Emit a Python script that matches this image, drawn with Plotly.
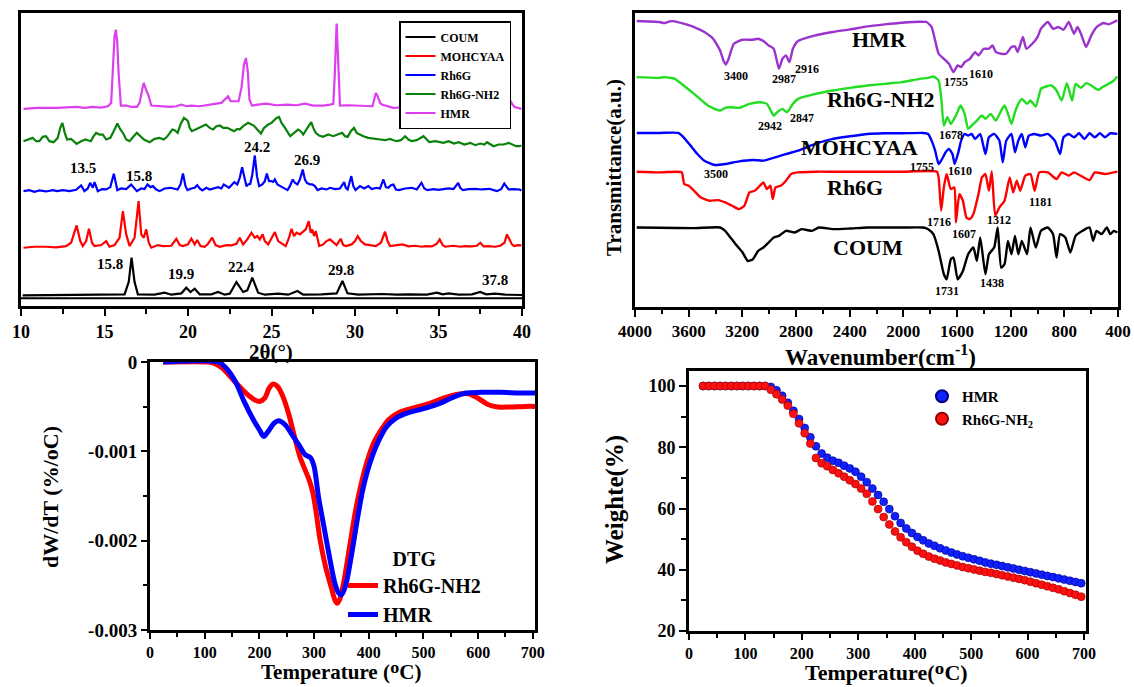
import plotly.graph_objects as go

W, H = 1134, 687
FONT = "Liberation Serif"

# ---------------- XRD (2theta, intensity a.u. above own baseline) ----------------
xrd_coum = [(10.1,0),(12.0,1),(14.0,1),(15.5,1),(16.2,3),(16.45,40),(16.62,113),(16.8,40),(17.0,3),(18.0,2),(18.6,8),(19.0,2),
            (19.6,6),(19.9,23),(20.15,10),(20.4,20),(20.7,3),(21.4,3),(21.8,10),(22.2,2),(22.5,5),(22.9,40),(23.3,10),(23.55,15),
            (23.85,53),(24.2,8),(24.6,2),(25.4,5),(26.0,2),(26.55,13),(26.9,2),(28.0,3),(28.9,6),(29.25,43),(29.55,6),(30.2,2),
            (31.6,4),(32.5,2),(33.2,3),(34.3,2),(34.9,8),(35.25,3),(35.6,6),(36.2,2),(37.0,3),(37.5,10),(37.85,3),(38.4,5),(39.0,2),(40.0,1)]
xrd_mohcyaa = [(10.15,0),(10.8,3),(11.5,3),(12.1,1),(12.7,5),(13.0,15),(13.33,67),(13.55,20),(13.7,5),(13.9,20),(14.07,57),(14.25,15),
               (14.4,5),(14.8,8),(15.1,20),(15.3,3),(15.6,8),(15.9,30),(16.1,110),(16.3,40),(16.5,5),(16.8,30),(17.04,140),(17.2,40),
               (17.35,30),(17.5,55),(17.65,15),(17.8,0),(18.2,8),(18.5,5),(19.0,6),(19.3,27),(19.5,8),(19.7,5),(20.0,10),(20.2,27),
               (20.4,10),(20.55,23),(20.75,5),(21.0,3),(21.2,12),(21.45,30),(21.65,8),(21.9,3),(22.3,8),(22.6,7),(22.9,12),(23.1,30),
               (23.3,10),(23.55,25),(23.8,45),(24.0,30),(24.15,35),(24.3,25),(24.47,40),(24.6,20),(24.8,10),(25.0,28),(25.2,47),
               (25.4,20),(25.53,15),(25.7,10),(25.85,5),(26.05,30),(26.2,57),(26.35,35),(26.5,45),(26.7,40),(26.9,50),(27.05,55),
               (27.23,80),(27.35,45),(27.44,55),(27.55,35),(27.65,50),(27.86,5),(28.1,10),(28.3,20),(28.5,25),(28.7,15),(28.9,8),
               (29.14,27),(29.3,8),(29.46,5),(29.8,10),(30.0,20),(30.16,35),(30.35,20),(30.6,10),(30.9,8),(31.25,5),(31.55,15),
               (31.8,48),(31.95,20),(32.1,5),(32.5,8),(32.85,10),(33.2,4),(33.6,6),(34.0,3),(34.23,5),(34.6,4),(34.9,12),(35.07,25),
               (35.25,8),(35.4,3),(35.9,6),(36.3,3),(36.56,5),(37.0,4),(37.3,6),(37.5,15),(37.7,4),(38.0,5),(38.37,3),(38.7,6),
               (38.95,15),(39.1,40),(39.25,25),(39.4,10),(39.53,5),(39.75,8),(39.96,7)]
xrd_rh6g = [(10.15,0),(10.5,3),(10.8,-2),(11.1,2),(11.5,-1),(11.9,3),(12.16,0),(12.5,3),(12.9,0),(13.3,4),(13.6,17),(13.8,0),(14.0,8),
            (14.14,25),(14.3,10),(14.4,27),(14.6,0),(14.85,6),(15.1,5),(15.35,12),(15.56,52),(15.77,3),(16.0,8),(16.3,6),(16.6,20),
            (16.94,0),(17.2,8),(17.4,6),(17.57,20),(17.75,12),(17.9,15),(18.1,5),(18.3,0),(18.6,8),(18.95,10),(19.2,6),(19.38,5),
            (19.55,20),(19.7,53),(19.85,15),(19.97,3),(20.2,8),(20.4,10),(20.55,18),(20.7,8),(20.86,2),(21.1,10),(21.3,5),(21.5,7),
            (21.8,12),(22.0,8),(22.14,20),(22.3,15),(22.45,10),(22.6,18),(22.77,27),(22.95,20),(23.1,40),(23.24,72),(23.4,30),
            (23.5,15),(23.6,20),(23.73,22),(23.85,50),(24.0,107),(24.13,45),(24.26,15),(24.45,20),(24.6,30),(24.72,53),(24.85,30),
            (25.0,30),(25.1,28),(25.2,35),(25.35,20),(25.53,15),(25.75,8),(25.96,3),(26.1,15),(26.27,35),(26.4,25),(26.55,20),
            (26.7,35),(26.87,65),(27.0,35),(27.12,25),(27.3,20),(27.44,20),(27.6,15),(27.76,3),(28.0,8),(28.3,5),(28.5,10),(28.8,6),
            (29.1,8),(29.35,27),(29.45,10),(29.56,5),(29.67,25),(29.78,45),(29.9,15),(30.03,3),(30.3,15),(30.55,8),(30.8,15),(31.0,6),
            (31.3,10),(31.5,8),(31.7,35),(31.85,12),(32.0,10),(32.15,18),(32.3,20),(32.45,5),(32.64,3),(33.0,8),(33.4,10),(33.7,5),
            (33.98,25),(34.15,8),(34.34,3),(34.7,6),(35.0,4),(35.3,5),(35.6,8),(35.9,6),(36.18,25),(36.3,10),(36.46,3),(36.8,6),
            (37.2,7),(37.6,5),(38.05,7),(38.3,3),(38.5,0),(38.75,6),(38.94,23),(39.05,15),(39.2,5),(39.5,6),(39.85,5),(39.96,2)]
xrd_rh6g_nh2 = [(10.15,5),(10.4,10),(10.7,15),(10.9,5),(11.1,5),(11.3,18),(11.5,20),(11.7,5),(11.95,2),(12.2,15),(12.35,45),(12.48,60),
                (12.62,30),(12.76,10),(13.0,12),(13.15,5),(13.33,-3),(13.6,5),(13.86,10),(14.0,8),(14.18,5),(14.35,20),(14.5,30),
                (14.7,25),(14.9,25),(15.1,10),(15.35,15),(15.55,35),(15.77,58),(15.95,40),(16.1,30),(16.3,10),(16.5,5),(16.75,20),
                (16.94,30),(17.15,20),(17.36,10),(17.7,2),(18.0,12),(18.3,15),(18.55,10),(18.74,18),(18.9,30),(19.06,40),(19.2,38),
                (19.38,30),(19.55,55),(19.76,75),(19.9,70),(20.0,65),(20.1,45),(20.23,35),(20.45,40),(20.65,45),(20.85,50),(21.07,55),
                (21.3,45),(21.5,40),(21.7,50),(21.92,52),(22.1,45),(22.35,45),(22.55,40),(22.77,35),(22.95,42),(23.1,40),(23.3,50),
                (23.6,60),(23.8,55),(23.94,52),(24.15,40),(24.37,28),(24.55,45),(24.8,55),(25.0,60),(25.1,65),(25.3,75),(25.45,78),
                (25.6,60),(25.74,50),(25.95,35),(26.12,20),(26.35,30),(26.6,40),(26.75,35),(26.9,25),(27.15,45),(27.38,62),(27.5,45),
                (27.65,30),(27.85,22),(28.08,18),(28.4,25),(28.7,20),(28.95,25),(29.23,30),(29.4,20),(29.56,18),(29.75,35),(29.94,45),
                (30.1,30),(30.3,25),(30.5,20),(30.8,15),(31.1,12),(31.5,10),(31.8,8),(32.1,12),(32.3,8),(32.5,5),(32.75,8),(33.0,20),
                (33.2,10),(33.4,5),(33.7,8),(33.95,15),(34.1,20),(34.3,10),(34.45,2),(34.8,5),(35.1,3),(35.3,0),(35.6,5),(35.93,-2),
                (36.2,2),(36.56,-5),(36.9,0),(37.2,-7),(37.5,-2),(37.75,-5),(37.9,2),(38.1,-5),(38.3,-10),(38.6,-5),(38.9,-5),(39.2,0),
                (39.4,-5),(39.65,-10),(39.85,-10),(39.96,-8)]
xrd_hmr = [(10.15,-3),(11.0,0),(12.16,0),(13.0,2),(13.33,3),(13.8,0),(14.3,3),(14.8,1),(15.2,5),(15.4,15),(15.5,125),(15.6,215),
           (15.68,235),(15.76,200),(15.85,100),(15.98,7),(16.3,7),(16.6,3),(16.94,3),(17.1,15),(17.26,55),(17.35,75),(17.45,60),
           (17.55,50),(17.65,35),(17.8,7),(18.2,5),(18.95,3),(19.3,5),(19.6,10),(19.9,5),(20.2,7),(20.7,5),(21.2,10),(21.7,13),
           (22.0,15),(22.2,25),(22.4,35),(22.56,20),(22.8,20),(23.03,20),(23.2,60),(23.35,130),(23.47,150),(23.58,110),(23.68,25),
           (23.83,7),(24.2,10),(24.67,13),(25.3,8),(25.96,10),(26.5,8),(27.0,13),(27.5,7),(28.08,7),(28.5,10),(28.7,12),(28.78,90),
           (28.85,240),(28.9,253),(28.97,170),(29.05,40),(29.1,7),(29.6,8),(30.2,7),(30.6,6),(31.05,5),(31.15,25),(31.25,45),
           (31.36,35),(31.5,15),(31.6,10),(32.0,5),(32.3,0),(33.0,2),(33.5,4),(34.45,0),(35.5,2),(36.56,0),(37.5,2),(38.7,0),
           (39.2,3),(39.35,17),(39.45,10),(39.53,3),(39.96,-3)]
xrd_names = ["COUM", "MOHCYAA", "Rh6G", "Rh6G-NH2", "HMR"]
xrd_series = [xrd_coum, xrd_mohcyaa, xrd_rh6g, xrd_rh6g_nh2, xrd_hmr]
xrd_offsets = [52, 195, 365, 510, 615]
xrd_colors = ["#000000", "#ff0000", "#0000ff", "#0a820a", "#dd3ef0"]
xrd_ticks = [10, 15, 20, 25, 30, 35, 40]
xrd_labels = [(15.35,147,"15.8"),(19.59,115,"19.9"),(23.2,137,"22.4"),(29.14,127,"29.8"),(38.37,97,"37.8"),
              (13.69,433,"13.5"),(17.04,410,"15.8"),(24.11,498,"24.2"),(27.12,458,"26.9")]

# ---------------- FTIR (wavenumber, dip depth below own plateau) ----------------
ftir_hmr = [(3987,0),(3819,3),(3780,6),(3741,1),(3703,1),(3638,8),(3560,18),(3483,33),(3418,53),(3366,88),(3341,118),(3322,130),
            (3302,113),(3263,68),(3198,56),(3121,56),(3082,53),(3043,60),(3004,73),(2966,83),(2927,143),(2901,113),(2875,103),
            (2849,123),(2823,83),(2785,60),(2655,43),(2526,33),(2397,25),(2267,16),(2138,10),(2009,5),(1879,2),(1828,3),(1789,18),
            (1763,58),(1737,98),(1698,113),(1660,128),(1626,153),(1595,133),(1569,138),(1543,123),(1504,113),(1465,93),(1440,103),
            (1401,83),(1362,83),(1336,73),(1310,93),(1271,98),(1233,98),(1194,78),(1168,76),(1148,93),(1109,48),(1083,83),(1039,68),
            (1000,48),(974,23),(923,3),(884,23),(845,18),(806,26),(767,3),(728,38),(702,18),(676,38),(638,78),(599,43),(560,18),
            (509,6),(470,10),(431,3),(405,-2)]
ftir_rh6g_nh2 = [(3987,0),(3819,2),(3780,0),(3703,5),(3638,25),(3560,50),(3457,85),(3366,100),(3328,92),(3289,90),(3224,92),(3147,80),
                 (3069,75),(3017,80),(2966,115),(2940,105),(2901,95),(2867,105),(2823,80),(2785,65),(2655,50),(2526,40),(2397,32),
                 (2267,25),(2138,20),(2009,15),(1879,5),(1815,2),(1776,-2),(1737,10),(1718,60),(1698,145),(1672,120),(1646,140),
                 (1608,115),(1574,85),(1543,110),(1517,155),(1491,145),(1452,130),(1414,115),(1388,125),(1349,110),(1310,130),
                 (1271,100),(1246,85),(1220,110),(1194,140),(1168,105),(1143,80),(1117,65),(1078,80),(1052,70),(1013,88),(974,35),
                 (935,28),(897,25),(858,40),(820,70),(781,18),(742,70),(716,20),(676,32),(638,18),(599,25),(547,38),(509,28),(470,20),
                 (431,10),(405,-2)]
ftir_mohcyaa = [(3987,0),(3819,0),(3677,0),(3638,13),(3586,38),(3535,63),(3483,83),(3405,96),(3328,93),(3224,85),(3121,81),(3043,83),
                (2914,68),(2785,53),(2655,33),(2526,18),(2397,10),(2267,3),(2138,1),(2009,1),(1853,0),(1815,3),(1789,23),(1763,53),
                (1737,93),(1711,78),(1685,58),(1660,48),(1634,63),(1617,93),(1590,58),(1569,23),(1543,3),(1517,8),(1491,3),(1465,18),
                (1427,3),(1388,63),(1362,13),(1323,3),(1284,23),(1259,88),(1233,23),(1194,3),(1168,58),(1143,23),(1117,3),(1091,43),
                (1065,8),(1026,3),(974,8),(923,3),(871,23),(832,63),(806,13),(767,3),(728,13),(690,1),(651,18),(612,1),(573,13),
                (535,1),(496,13),(457,1),(405,3)]
ftir_rh6g = [(3987,0),(3819,2),(3690,0),(3651,2),(3633,37),(3599,42),(3560,57),(3509,77),(3444,87),(3379,85),(3328,92),(3276,102),
             (3224,112),(3185,102),(3147,62),(3108,57),(3069,42),(3043,32),(3017,52),(2991,42),(2973,82),(2953,47),(2914,42),
             (2875,27),(2836,7),(2785,2),(2655,0),(2526,0),(2267,0),(2009,0),(1750,0),(1737,17),(1718,117),(1698,47),(1677,7),
             (1646,52),(1620,47),(1608,152),(1582,67),(1556,87),(1530,137),(1504,142),(1478,127),(1440,67),(1414,17),(1388,7),
             (1362,57),(1341,-1),(1315,132),(1284,107),(1246,87),(1207,17),(1181,62),(1155,27),(1129,57),(1091,12),(1052,7),
             (1021,57),(987,2),(923,2),(858,22),(820,2),(767,12),(728,2),(612,25),(573,2),(496,7),(405,0)]
ftir_coum = [(3987,0),(3819,1),(3560,2),(3366,0),(3328,10),(3289,30),(3250,50),(3198,75),(3160,100),(3121,95),(3082,70),(3043,60),
             (3004,45),(2966,30),(2927,25),(2875,10),(2810,15),(2759,5),(2681,10),(2630,0),(2526,5),(2397,3),(2267,0),(2009,0),
             (1853,0),(1815,5),(1776,20),(1737,70),(1698,140),(1677,155),(1646,95),(1626,90),(1595,155),(1556,130),(1517,80),
             (1478,60),(1452,100),(1427,30),(1388,140),(1362,80),(1323,60),(1297,0),(1271,120),(1246,110),(1220,40),(1194,80),
             (1168,25),(1143,80),(1117,40),(1078,80),(1052,0),(1013,60),(974,10),(923,0),(884,20),(858,90),(832,20),(793,30),
             (755,75),(716,25),(664,10),(612,0),(586,40),(560,10),(522,20),(483,0),(457,20),(431,10),(405,15)]
ftir_names = ["HMR", "Rh6G-NH2", "MOHCYAA", "Rh6G", "COUM"]
ftir_series = [ftir_hmr, ftir_rh6g_nh2, ftir_mohcyaa, ftir_rh6g, ftir_coum]
ftir_offsets = [856, 688, 521, 405, 238]
ftir_colors = ["#9a32cd", "#22dd22", "#0000ff", "#ff0000", "#000000"]
ftir_ticks = [4000, 3600, 3200, 2800, 2400, 2000, 1600, 1200, 800, 400]
ftir_peak_labels = [(3250,690,"3400"),(2888,683,"2987"),(2720,713,"2916"),(1608,673,"1755"),(1419,696,"1610"),
                    (2992,543,"2942"),(2754,565,"2847"),(1647,516,"1678"),(3400,398,"3500"),(1860,420,"1755"),(1574,408,"1610"),
                    (1737,253,"1716"),(1549,218,"1607"),(1285,260,"1312"),(974,313,"1181"),(1673,48,"1731"),(1342,73,"1438")]
ftir_name_labels = [(2177,800,"HMR"),(2169,620,"Rh6G-NH2"),(2330,478,"MOHCYAA"),(2358,358,"Rh6G"),(2262,178,"COUM")]

# ---------------- DTG ----------------
dtg_T_nh2 = [24,105,115,132,152,172,189,200,210,218,225,233,243,254,264,274,281,291,298,304,311,321,331,338,342,347,355,365,375,
             385,396,409,423,436,453,470,504,538,565,582,599,619,636,659,687,705]
dtg_nh2 = [0,0,-0.000011,-0.000067,-0.000198,-0.000329,-0.000415,-0.000441,-0.000403,-0.000291,-0.000247,-0.000273,-0.000385,
           -0.000590,-0.000833,-0.001057,-0.001169,-0.001319,-0.001468,-0.001692,-0.001991,-0.002290,-0.002514,-0.002664,-0.002701,
           -0.002656,-0.002440,-0.002066,-0.001692,-0.001394,-0.001132,-0.000908,-0.000758,-0.000646,-0.000572,-0.000534,-0.000478,
           -0.000403,-0.000359,-0.000355,-0.000403,-0.000478,-0.000504,-0.000504,-0.000497,-0.000497]
dtg_T_hmr = [24,125,139,156,172,189,200,208,216,227,235,247,260,274,284,293,300,308,318,328,338,345,350,358,369,379,389,402,416,
             433,450,470,504,531,558,578,605,642,676,705]
dtg_hmr = [0,0,-0.000067,-0.000217,-0.000441,-0.000646,-0.000758,-0.000833,-0.000777,-0.000684,-0.000658,-0.000702,-0.000815,
           -0.000945,-0.001039,-0.001068,-0.001169,-0.001506,-0.001842,-0.002178,-0.002477,-0.002589,-0.002608,-0.002496,-0.002141,
           -0.001767,-0.001431,-0.001132,-0.000908,-0.000721,-0.000628,-0.000572,-0.000516,-0.000460,-0.000385,-0.000347,-0.000340,
           -0.000340,-0.000347,-0.000347]
dtg_ticks = [0, -0.001, -0.002, -0.003]
dtg_ticktext = ["0", "-0.001", "-0.002", "-0.003"]
temp_ticks = [0, 100, 200, 300, 400, 500, 600, 700]

# ---------------- TGA ----------------
tga_T = [25,35,45,55,65,75,85,95,105,115,125,135,145,155,165,175,185,195,205,215,225,235,245,255,265,275,285,295,305,315,325,335,
         345,355,365,375,385,395,405,415,425,435,445,455,465,475,485,495,505,515,525,535,545,555,565,575,585,595,605,615,625,635,
         645,655,665,675,685,695]
tga_hmr = [100,100,100,100,100,100,100,100,100,100,100,100,99.7,98.6,96.8,94.5,91.9,89.2,86.3,83.3,80.3,78.0,76.6,75.6,74.9,74.0,
           73.1,72.0,70.4,68.6,66.5,64.4,62.2,59.8,57.5,55.3,53.5,52.0,50.7,49.6,48.6,47.8,47.0,46.3,45.6,45.0,44.4,43.9,43.4,
           42.9,42.4,42.0,41.6,41.2,40.8,40.4,40.0,39.6,39.2,38.8,38.4,38.0,37.6,37.2,36.8,36.4,36.0,35.6]
tga_nh2 = [100,100,100,100,100,100,100,100,100,100,100,100,98.8,97.3,95.6,93.6,90.9,87.8,84.6,81.2,76.5,74.8,73.8,72.6,71.5,70.4,
           69.2,68.0,66.5,64.8,62.3,59.8,57.2,54.8,52.5,50.6,49.0,47.5,46.2,45.2,44.3,43.6,43.0,42.4,41.9,41.4,40.9,40.5,40.1,
           39.7,39.3,39.0,38.6,38.2,37.8,37.4,37.0,36.6,36.1,35.6,35.1,34.6,34.1,33.6,33.0,32.4,31.8,31.2]
tga_yticks = [20, 40, 60, 80, 100]

# axis titles: (text, centre x px, centre y px, size, angle)
axis_titles = [("2θ(°)", 271, 352, 21, 0),
               ("Wavenumber(cm<sup>-1</sup>)", 880, 355, 23, 0),
               ("Transmittance(a.u.)", 614, 168, 21, -90),
               ("Temperature (ᴼC)", 341, 672, 21, 0),
               ("dW/dT (%/oC)", 50, 497, 22, -90),
               ("Temperature(ᴼC)", 886, 672, 22, 0),
               ("Weighte(%)", 615, 500, 25, -90)]

# ================= figure =================
def b(v):
    return "<b>%s</b>" % v

fig = go.Figure()

for name, pts, off, col in zip(xrd_names, xrd_series, xrd_offsets, xrd_colors):
    fig.add_trace(go.Scatter(x=[p[0] for p in pts], y=[off + p[1] for p in pts], mode="lines", name=b(name),
                             line=dict(color=col, width=2.2), xaxis="x", yaxis="y", legend="legend"))

for name, pts, off, col in zip(ftir_names, ftir_series, ftir_offsets, ftir_colors):
    fig.add_trace(go.Scatter(x=[p[0] for p in pts], y=[off - p[1] for p in pts], mode="lines", name=name,
                             line=dict(color=col, width=2.4, shape="spline", smoothing=0.5),
                             xaxis="x2", yaxis="y2", showlegend=False))

fig.add_trace(go.Scatter(x=dtg_T_nh2, y=dtg_nh2, mode="lines", name=b("Rh6G-NH2"),
                         line=dict(color="#ff0000", width=5, shape="spline", smoothing=0.8),
                         xaxis="x3", yaxis="y3", legend="legend2"))
fig.add_trace(go.Scatter(x=dtg_T_hmr, y=dtg_hmr, mode="lines", name=b("HMR"),
                         line=dict(color="#0000ff", width=5, shape="spline", smoothing=0.8),
                         xaxis="x3", yaxis="y3", legend="legend2"))

fig.add_trace(go.Scatter(x=tga_T, y=tga_hmr, mode="markers", name=b("HMR"),
                         marker=dict(color="#1020ff", size=8, line=dict(color="#000080", width=0.6)),
                         xaxis="x4", yaxis="y4", legend="legend3"))
fig.add_trace(go.Scatter(x=tga_T, y=tga_nh2, mode="markers", name=b("Rh6G-NH<sub>2</sub>"),
                         marker=dict(color="#ff1010", size=8, line=dict(color="#900000", width=0.6)),
                         xaxis="x4", yaxis="y4", legend="legend3"))

def px_x(a, c):
    return [a / W, c / W]

def px_y(top, bottom):
    return [1 - bottom / H, 1 - top / H]

tickfont = dict(family=FONT, size=17, color="black")
axis_common = dict(showline=True, linecolor="black", linewidth=3, mirror=True, showgrid=False, zeroline=False,
                   ticks="outside", tickcolor="black", tickwidth=2, tickfont=tickfont, automargin=False)

def minor(vals, ln):
    return dict(tickvals=vals, ticklen=ln, tickwidth=1.5, ticks="outside", tickcolor="black")

fig.update_layout(
    width=W, height=H, margin=dict(l=0, r=0, t=0, b=0, autoexpand=False), paper_bgcolor="white", plot_bgcolor="white",
    font=dict(family=FONT, color="black"),
    xaxis=dict(axis_common, domain=px_x(21, 522), anchor="y", range=[10, 40], tickvals=xrd_ticks,
               ticktext=[b(v) for v in xrd_ticks], ticklen=7, tickfont=dict(tickfont, size=18),
               minor=minor([12.5, 17.5, 22.5, 27.5, 32.5, 37.5], 5)),
    yaxis=dict(axis_common, domain=px_y(13, 306), anchor="x", range=[20, 900], ticks="", showticklabels=False),
    xaxis2=dict(axis_common, domain=px_x(635, 1118), anchor="y2", range=[4000, 400],
                tickvals=ftir_ticks, ticktext=[b(v) for v in ftir_ticks], ticklen=7,
                minor=minor([3800, 3400, 3000, 2600, 2200, 1800, 1400, 1000, 600], 4)),
    yaxis2=dict(axis_common, domain=px_y(13, 307), anchor="x2", range=[0, 880], ticks="", showticklabels=False),
    xaxis3=dict(axis_common, domain=px_x(150, 535), anchor="y3", range=[0, 704], tickvals=temp_ticks,
                ticktext=[b(v) for v in temp_ticks], ticklen=6, tickfont=dict(tickfont, size=16),
                minor=minor([50, 150, 250, 350, 450, 550, 650], 4)),
    yaxis3=dict(axis_common, domain=px_y(362, 630), anchor="x3", range=[-0.003, 0], tickvals=dtg_ticks,
                ticktext=[b(v) for v in dtg_ticktext], ticklen=6, tickfont=dict(tickfont, size=19),
                minor=minor([-0.0005, -0.0015, -0.0025], 4)),
    xaxis4=dict(axis_common, domain=px_x(689, 1086), anchor="y4", range=[0, 703.5], tickvals=temp_ticks,
                ticktext=[b(v) for v in temp_ticks], ticklen=6, tickfont=dict(tickfont, size=16),
                minor=minor([50, 150, 250, 350, 450, 550, 650], 4)),
    yaxis4=dict(axis_common, domain=px_y(371, 631), anchor="x4", range=[20, 104.9], tickvals=tga_yticks,
                ticktext=[b(v) for v in tga_yticks], ticklen=7, tickfont=dict(tickfont, size=18),
                minor=minor([30, 50, 70, 90], 5)),
    legend=dict(x=511 / W, y=1 - 21 / H, xanchor="right", yanchor="top", bgcolor="white", bordercolor="black", borderwidth=1.5,
                font=dict(family=FONT, size=12, color="black"), tracegroupgap=0, itemwidth=30),
    legend2=dict(x=343 / W, y=1 - 540 / H, xanchor="left", yanchor="top", bgcolor="rgba(0,0,0,0)",
                 font=dict(family=FONT, size=20, color="black"),
                 title=dict(text=b("DTG"), side="top center", font=dict(family=FONT, size=20, color="black"))),
    legend3=dict(x=922 / W, y=1 - 380 / H, xanchor="left", yanchor="top", bgcolor="rgba(0,0,0,0)",
                 font=dict(family=FONT, size=15, color="black"), itemsizing="constant"),
)

# inner frame line of the XRD panel
fig.add_shape(type="line", xref="x domain", yref="y", x0=0, x1=1, y0=43, y1=43, line=dict(color="black", width=2))

for t, cx, cy, sz, ang in axis_titles:
    fig.add_annotation(x=cx / W, y=1 - cy / H, xref="paper", yref="paper", text=b(t), showarrow=False,
                       textangle=ang, xanchor="center", yanchor="middle",
                       font=dict(family=FONT, size=sz, color="black"))

for x, y, t in xrd_labels:
    fig.add_annotation(x=x, y=y, text=b(t), xref="x", yref="y", showarrow=False,
                       font=dict(family=FONT, size=15, color="black"))
for x, y, t in ftir_peak_labels:
    fig.add_annotation(x=x, y=y, text=b(t), xref="x2", yref="y2", showarrow=False,
                       font=dict(family=FONT, size=12, color="black"))
for x, y, t in ftir_name_labels:
    fig.add_annotation(x=x, y=y, text=b(t), xref="x2", yref="y2", showarrow=False,
                       font=dict(family=FONT, size=22, color="black"))

fig.write_html("out.html")
